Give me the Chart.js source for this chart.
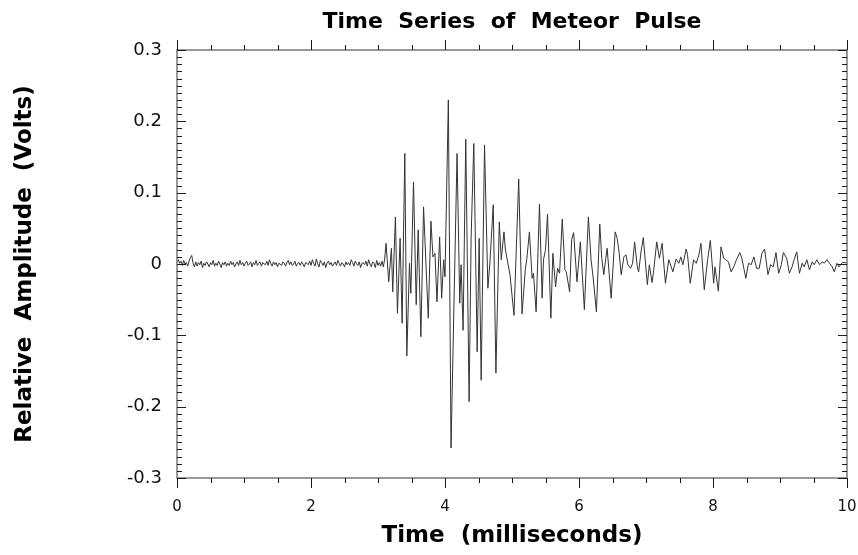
<!DOCTYPE html>
<html>
<head>
<meta charset="utf-8">
<script src="https://cdn.jsdelivr.net/npm/chart.js@4"></script>
<style>
  html, body { margin: 0; padding: 0; background: #fff; }
  #wrap { width: 858px; height: 555px; }
</style>
</head>
<body>
<div id="wrap"><canvas id="chart"></canvas></div>
<script>
const chartTitle = "Time  Series  of  Meteor  Pulse";
const xTitle = "Time  (milliseconds)";
const yTitle = "Relative  Amplitude  (Volts)";

const xTickValues = [0, 2, 4, 6, 8, 10];
const xTickLabels = ["0", "2", "4", "6", "8", "10"];
// the y scale runs in millivolts, labels are in volts
const yTickValues = [-300, -200, -100, 0, 100, 200, 300];
const yTickLabels = ["-0.3", "-0.2", "-0.1", "0", "0.1", "0.2", "0.3"];

// quiet stretch before the meteor: one sample every 0.02 ms from 0 ms (mV)
const noiseStep = 0.02;
const noiseMv = [
  3, 6, 1, 4, -2, 5, 0, 2, -3, 4, 9, 12, 1, -4, 3, -3, 2, -1, 4, -5,
  1, -2, 3, 0, -4, 2, -1, 5, -3, 1, -2, 4, 0, -5, 2, -1, 3, -3, 1, -2,
  4, -1, 2, -4, 0, 3, -2, 5, -1, 2, -3, 1, 4, -2, 0, 3, -4, 2, -1, 5,
  -2, 1, 3, -3, 2, 0, -1, 4, -2, 6, 1, -3, 3, -1, 2, -4, 1, 0, -2, 3,
  1, -3, 2, 5, -1, 3, -2, 0, 4, -3, 1, 2, -2, 3, 0, -4, 2, 1, -1, 4,
  -2, 6, 1, -3, 7, 0, -4, 5, 2, -2, 3, -5, 1, 4, -1, 2, -3, 0, 3, -2,
  5, 1, -3, 2, 0, -4, 3, -1, 2, -2, 6, 2, -3, 4, 0, -2, 3, -5, 1, 2,
  -1, 4, -3, 6, 0, -4, 3, 1, -5, 5, -2, 2, -3, 4, -4, 7,
];

// the pulse itself, read peak by peak (ms, mV)
const pulseTimes = [
  3.12, 3.16, 3.20, 3.22, 3.26, 3.29, 3.33, 3.36, 3.40, 3.43,
  3.47, 3.49, 3.53, 3.57, 3.60, 3.64, 3.68, 3.75, 3.79, 3.82,
  3.85, 3.88, 3.92, 3.95, 3.98, 4.00, 4.05, 4.09, 4.18, 4.22,
  4.24, 4.27, 4.31, 4.36, 4.39, 4.43, 4.48, 4.51, 4.54, 4.59,
  4.64, 4.67, 4.72, 4.76, 4.81, 4.84, 4.88, 4.90, 4.97, 5.03,
  5.10, 5.15, 5.20, 5.22, 5.26, 5.30, 5.32, 5.36, 5.41, 5.45,
  5.47, 5.50, 5.53, 5.58, 5.61, 5.65, 5.68, 5.71, 5.75, 5.79,
  5.81, 5.86, 5.89, 5.92, 5.97, 6.02, 6.08, 6.14, 6.18, 6.21,
  6.26, 6.31, 6.34, 6.37, 6.40, 6.42, 6.45, 6.48, 6.54, 6.57,
  6.60, 6.63, 6.67, 6.70, 6.73, 6.77, 6.80, 6.83, 6.87, 6.89,
  6.93, 6.96, 7.02, 7.05, 7.09, 7.11, 7.16, 7.20, 7.24, 7.29,
  7.34, 7.36, 7.40, 7.45, 7.49, 7.52, 7.55, 7.60, 7.62, 7.66,
  7.71, 7.75, 7.79, 7.82, 7.87, 7.92, 7.96, 8.01, 8.03, 8.08,
  8.12, 8.16, 8.19, 8.23, 8.27, 8.31, 8.35, 8.40, 8.43, 8.46,
  8.49, 8.53, 8.57, 8.61, 8.65, 8.69, 8.73, 8.77, 8.82, 8.86,
  8.90, 8.94, 8.98, 9.02, 9.05, 9.10, 9.14, 9.18, 9.21, 9.25,
  9.29, 9.33, 9.36, 9.40, 9.44, 9.48, 9.51, 9.55, 9.59, 9.63,
  9.66, 9.70, 9.74, 9.78, 9.81, 9.85, 9.88, 9.93, 9.97, 10.00,
];
const pulseMv = [
  29, -25, 22, -39, 66, -69, 36, -83, 155, -129,
  1, -41, 115, -57, 48, -102, 80, -76, 60, 10,
  15, -53, 38, -48, 6, -18, 230, -258, 155, -55,
  -1, -93, 175, -193, 38, 169, -123, 36, -163, 167,
  -34, 1, 83, -153, 59, 6, 45, 21, -15, -72,
  119, -70, -6, 6, 45, -20, -13, -67, 84, -48,
  6, 20, 70, -76, 15, -32, -6, -13, 63, -8,
  -11, -39, 34, 44, -25, 31, -64, 66, 6, -18,
  -67, 56, 8, -15, 8, 22, -13, -48, 45, 36,
  15, -15, 10, 13, -1, -6, 1, 31, -4, -11,
  20, 37, -29, -1, -26, -13, 31, 8, 29, -27,
  6, 1, -11, 7, 1, 10, -1, 21, 13, -27,
  6, 1, 13, 29, -36, 6, 33, -27, -4, -38,
  24, 8, 6, 3, -11, -4, 6, 16, 8, -6,
  -20, 1, -1, 10, -6, -6, 15, 21, -15, -1,
  -4, 16, -13, -1, 16, 8, -13, -4, 6, 17,
  -13, 1, -4, 6, -8, 3, -1, 6, -1, 3,
  1, 6, 1, -4, -11, 1, -4, 2, 2, 1,
];

const points = noiseMv
  .map((v, i) => ({ x: i * noiseStep, y: v }))
  .concat(pulseTimes.map((t, i) => ({ x: t, y: pulseMv[i] })));

const titleFont = { family: "DejaVu Sans", size: 22, weight: "bold" };
const axisTitleFont = { family: "DejaVu Sans", size: 23, weight: "bold" };

// box round the plot, with minor ticks every 0.5 ms and every 0.02 V
const framePlugin = {
  id: "frame",
  afterDatasetsDraw(chart) {
    const { ctx, chartArea: a, scales } = chart;
    const x = scales.x;
    const y = scales.y;
    ctx.save();
    ctx.strokeStyle = "#808080";
    ctx.lineWidth = 1.6;
    ctx.strokeRect(a.left, a.top, a.right - a.left, a.bottom - a.top);

    ctx.strokeStyle = "#1a1a1a";
    ctx.lineWidth = 1;
    ctx.beginPath();
    for (let k = 0; k <= 20; k++) {
      const px = Math.round(x.getPixelForValue(k * 0.5)) + 0.5;
      const len = k % 4 === 0 ? 10 : 5;
      ctx.moveTo(px, a.bottom);
      ctx.lineTo(px, a.bottom + len);
      ctx.moveTo(px, a.top);
      ctx.lineTo(px, a.top - len);
    }
    for (let k = -30; k <= 30; k++) {
      const py = Math.round(y.getPixelForValue(k * 10)) + 0.5;
      const len = k % 10 === 0 ? 9 : 5;
      ctx.moveTo(a.left, py);
      ctx.lineTo(a.left + len, py);
      ctx.moveTo(a.right, py);
      ctx.lineTo(a.right - len, py);
    }
    ctx.stroke();
    ctx.restore();
  },
};

// eslint-disable-next-line no-new
new Chart(document.getElementById("chart"), {
  type: "line",
  data: {
    datasets: [
      {
        data: points,
        borderColor: "#333333",
        borderWidth: 1,
        pointRadius: 0,
        tension: 0,
        fill: false,
      },
    ],
  },
  options: {
    animation: false,
    responsive: true,
    maintainAspectRatio: false,
    layout: { padding: { left: 0, right: 11, top: 0, bottom: 0 } },
    plugins: {
      legend: { display: false },
      tooltip: { enabled: false },
      title: { display: false },
    },
    scales: {
      x: {
        type: "linear",
        min: 0,
        max: 10,
        afterFit: (s) => {
          s.height = 77;
          s.paddingLeft = 0;
          s.paddingRight = 0;
        },
        afterBuildTicks: (s) => {
          s.ticks = xTickValues.map((v) => ({ value: v }));
        },
        ticks: {
          callback: (v, i) => xTickLabels[i],
          font: { family: "DejaVu Sans", size: 15 },
          color: "#111",
          padding: 20,
          maxRotation: 0,
          autoSkip: false,
        },
        grid: { display: false, drawTicks: false },
        border: { display: false },
        title: {
          display: true,
          text: xTitle,
          color: "#000",
          font: axisTitleFont,
          padding: { top: 0, bottom: 5 },
        },
      },
      // top edge only carries the chart title, centred over the plot
      xTop: {
        type: "linear",
        position: "top",
        min: 0,
        max: 10,
        afterFit: (s) => {
          s.height = 50;
          s.paddingLeft = 0;
          s.paddingRight = 0;
        },
        ticks: { display: false },
        grid: { display: false, drawTicks: false },
        border: { display: false },
        title: {
          display: true,
          text: chartTitle,
          color: "#000",
          font: titleFont,
          padding: { top: 9, bottom: 0 },
        },
      },
      y: {
        min: -300,
        max: 300,
        afterFit: (s) => {
          s.width = 177;
          s.paddingTop = 0;
          s.paddingBottom = 0;
        },
        afterBuildTicks: (s) => {
          s.ticks = yTickValues.map((v) => ({ value: v }));
        },
        ticks: {
          callback: (v, i) => yTickLabels[i],
          font: { family: "DejaVu Sans", size: 18 },
          color: "#111",
          padding: 15,
          autoSkip: false,
        },
        grid: { display: false, drawTicks: false },
        border: { display: false },
        title: {
          display: true,
          text: yTitle,
          color: "#000",
          font: axisTitleFont,
          padding: { top: 11, bottom: 0 },
        },
      },
    },
  },
  plugins: [framePlugin],
});
</script>
</body>
</html>
